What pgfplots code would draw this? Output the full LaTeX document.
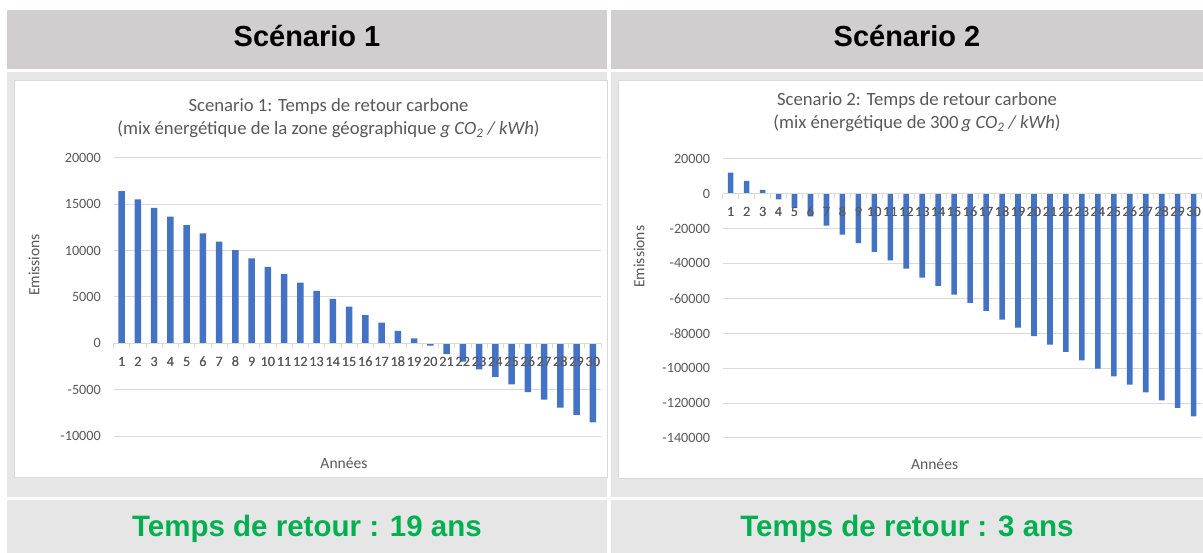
\documentclass[border=0pt]{standalone}
\usepackage{fontspec}
\setmainfont{Carlito}
\newfontfamily\arialfont{Liberation Sans}
\usepackage{pgfplots}
\usepackage{pgfplotstable}
\pgfplotsset{compat=1.18}
\definecolor{hdr}{HTML}{D0CECE}
\definecolor{cellgray}{HTML}{E7E6E6}
\definecolor{boxborder}{HTML}{D9D9D9}
\definecolor{barblue}{HTML}{4472C4}
\definecolor{gridgray}{HTML}{D9D9D9}
\definecolor{txtgray}{HTML}{595959}
\definecolor{okgreen}{HTML}{00B050}

\pgfplotstableread{
annee emissions
1 16400
2 15500
3 14600
4 13650
5 12750
6 11850
7 10950
8 10050
9 9150
10 8250
11 7450
12 6550
13 5650
14 4800
15 3950
16 3050
17 2250
18 1350
19 550
20 -250
21 -1150
22 -1950
23 -2800
24 -3600
25 -4400
26 -5250
27 -6050
28 -6900
29 -7700
30 -8500
}\scenarioone

\pgfplotstableread{
annee emissions
1 12000
2 7250
3 2100
4 -3250
5 -8250
6 -13000
7 -18300
8 -23500
9 -28300
10 -33400
11 -38200
12 -43000
13 -48100
14 -52900
15 -57900
16 -62600
17 -67200
18 -72200
19 -76800
20 -81600
21 -86500
22 -90700
23 -95500
24 -100300
25 -104700
26 -109400
27 -113800
28 -118400
29 -122800
30 -127600
}\scenariotwo

\pgfplotsset{
  excelbar/.style={
    scale only axis,
    anchor=south west,
    axis x line=middle,
    axis y line=left,
    x axis line style={draw=gridgray, line width=1pt, -},
    y axis line style={draw=none},
    xmin=0.5, xmax=30.5,
    xtick={1,...,30},
    xticklabel={\pgfmathparse{int(\tick)}\pgfmathresult},
    minor xtick={0.5,1.5,...,30.5},
    major tick length=0pt,
    minor tick length=5pt,
    tick align=outside,
    minor tick style={draw=gridgray, line width=1pt},
    ymajorgrids,
    major grid style={draw=gridgray, line width=1pt},
    scaled ticks=false,
    hide obscured x ticks=false,
    hide obscured y ticks=false,
    tick label style={font=\fontsize{14.2}{16}\selectfont, text=txtgray},
    yticklabel style={anchor=east, inner sep=0pt, xshift=-12.5pt},
    xticklabel style={anchor=center, inner sep=0pt, yshift=-18.5pt},
  },
  % overlay that redraws the category axis and its labels above the bars
  exceloverlay/.style={
    excelbar,
    ymajorgrids=false,
    ytick=\empty,
    minor tick length=0pt,
  },
}

\begin{document}
\begin{tikzpicture}
% table cells
\fill[white] (0pt,0pt) rectangle (1203pt,553pt);
\fill[hdr] (7pt,484pt) rectangle (607pt,543pt);
\fill[hdr] (611pt,484pt) rectangle (1203pt,543pt);
\fill[cellgray] (7pt,56pt) rectangle (607pt,481pt);
\fill[cellgray] (611pt,56pt) rectangle (1203pt,481pt);
\fill[cellgray] (7pt,0pt) rectangle (607pt,53pt);
\fill[cellgray] (611pt,0pt) rectangle (1203pt,53pt);
\filldraw[fill=white, draw=boxborder, line width=1pt] (14.5pt,75.5pt) rectangle (607.5pt,472.5pt);
\filldraw[fill=white, draw=boxborder, line width=1pt] (618.5pt,74.5pt) rectangle (1210pt,472.5pt);

% headers
\node[anchor=base, font=\arialfont\bfseries\fontsize{29}{34}\selectfont] at (307pt,506.3pt) {Scénario 1};
\node[anchor=base, font=\arialfont\bfseries\fontsize{29}{34}\selectfont] at (907pt,506.3pt) {Scénario 2};

% footers
\node[anchor=base, text=okgreen, font=\arialfont\bfseries\fontsize{29.5}{34}\selectfont] at (307pt,16.3pt) {Temps de retour : 19 ans};
\node[anchor=base, text=okgreen, font=\arialfont\bfseries\fontsize{29.5}{34}\selectfont] at (907pt,16.3pt) {Temps de retour : 3 ans};

% chart 1
\begin{axis}[excelbar, at={(113.5pt,116.7pt)}, width=487.5pt, height=278.6pt,
  ymin=-10000, ymax=20000, ytick={-10000,-5000,0,5000,10000,15000,20000},
  yticklabels={-10000,-5000,0,5000,10000,15000,20000}]
\addplot[ybar, bar width=6.3pt, fill=barblue, draw=none] table[x=annee, y=emissions] {\scenarioone};
\end{axis}
\begin{axis}[exceloverlay, at={(113.5pt,116.7pt)}, width=487.5pt, height=278.6pt,
  ymin=-10000, ymax=20000]
\end{axis}
\node[text=txtgray, font=\fontsize{18.7}{22}\selectfont] at (328.5pt,446.3pt) {Scenario 1: Temps de retour carbone};
\node[text=txtgray, font=\fontsize{18.7}{22}\selectfont] at (328.5pt,423.7pt) {(mix énergétique de la zone géographique \textit{g CO\textsubscript{2} / kWh})};
\node[text=txtgray, rotate=90, font=\fontsize{15.6}{18}\selectfont] at (34pt,288pt) {Emissions};
\node[text=txtgray, font=\fontsize{15.6}{18}\selectfont] at (344pt,89.7pt) {Années};

% chart 2
\begin{axis}[excelbar, at={(722.7pt,115pt)}, width=478.9pt, height=279.3pt,
  ymin=-140000, ymax=20000,
  ytick={-140000,-120000,-100000,-80000,-60000,-40000,-20000,0,20000},
  yticklabels={-140000,-120000,-100000,-80000,-60000,-40000,-20000,0,20000}]
\addplot[ybar, bar width=5.6pt, fill=barblue, draw=none] table[x=annee, y=emissions] {\scenariotwo};
\end{axis}
\begin{axis}[exceloverlay, at={(722.7pt,115pt)}, width=478.9pt, height=279.3pt,
  ymin=-140000, ymax=20000]
\end{axis}
\node[text=txtgray, font=\fontsize{18.7}{22}\selectfont] at (917pt,452.3pt) {Scenario 2: Temps de retour carbone};
\node[text=txtgray, font=\fontsize{18.7}{22}\selectfont] at (917pt,429.7pt) {(mix énergétique de 300\,\textit{g CO\textsubscript{2} / kWh})};
\node[text=txtgray, rotate=90, font=\fontsize{15.6}{18}\selectfont] at (639pt,296.3pt) {Emissions};
\node[text=txtgray, font=\fontsize{15.6}{18}\selectfont] at (934.6pt,89pt) {Années};

\pgfresetboundingbox
\useasboundingbox (0pt,0pt) rectangle (1203pt,553pt);
\end{tikzpicture}
\end{document}
